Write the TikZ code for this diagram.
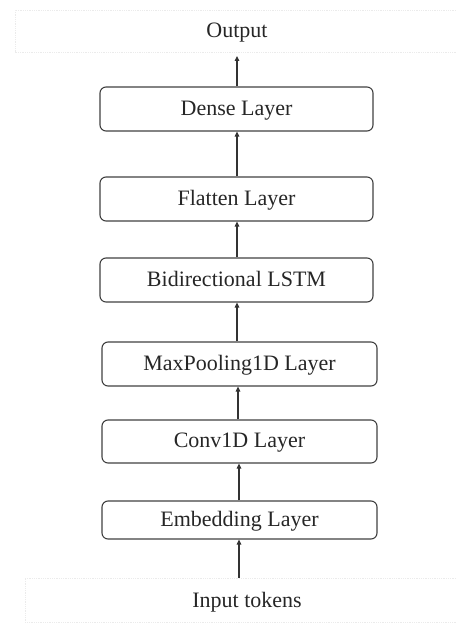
\documentclass[tikz,border=0pt]{standalone}
\usepackage{fontspec}
\setmainfont{Liberation Serif}
\usetikzlibrary{arrows.meta}
\begin{document}
\begin{tikzpicture}[x=1pt,y=-1pt,
  layer/.style={draw=black!75, line width=1.1pt, rounded corners=6pt, minimum width=273pt, inner sep=0pt, font=\fontsize{22}{24}\selectfont, text=black!85, text depth=2pt},
  lbl/.style={font=\fontsize{22}{24}\selectfont, text=black!85, inner sep=0pt},
  flow/.style={draw=black!80, line width=1.1pt, -{Triangle[length=5pt,width=4.5pt]}},
  faint/.style={draw=black!8, line width=0.8pt, densely dotted}]
\useasboundingbox (0,0) rectangle (456,623);
\draw[faint] (456,10) -- (15,10) -- (15,52) -- (456,52);
\draw[faint] (456,578) -- (25,578) -- (25,622) -- (456,622);
\node[lbl] (out) at (237,33) {Output};
\node[layer, minimum height=44pt] (dense) at (236.5,109) {Dense Layer};
\node[layer, minimum height=44pt] (flat) at (236.5,199) {Flatten Layer};
\node[layer, minimum height=44pt] (lstm) at (236.5,280) {Bidirectional LSTM};
\node[layer, minimum height=44pt, minimum width=275pt] (pool) at (239.5,364) {MaxPooling1D Layer};
\node[layer, minimum height=43pt, minimum width=275pt] (conv) at (239.5,441.5) {Conv1D Layer};
\node[layer, minimum height=38pt, minimum width=275pt] (emb) at (239.5,520) {Embedding Layer};
\node[lbl] (in) at (247,602) {Input tokens};
\coordinate (inTop) at (239,578);
\coordinate (outBot) at (237,56);
\draw[flow] (inTop) -- (emb.south -| inTop);
\draw[flow] (emb.north -| inTop) -- (conv.south -| inTop);
\draw[flow] (conv.north -| 238,0) -- (pool.south -| 238,0);
\draw[flow] (pool.north -| 237,0) -- (lstm.south -| 237,0);
\draw[flow] (lstm.north -| 237,0) -- (flat.south -| 237,0);
\draw[flow] (flat.north -| 237,0) -- (dense.south -| 237,0);
\draw[flow] (dense.north -| 237,0) -- (outBot);
\end{tikzpicture}
\end{document}
